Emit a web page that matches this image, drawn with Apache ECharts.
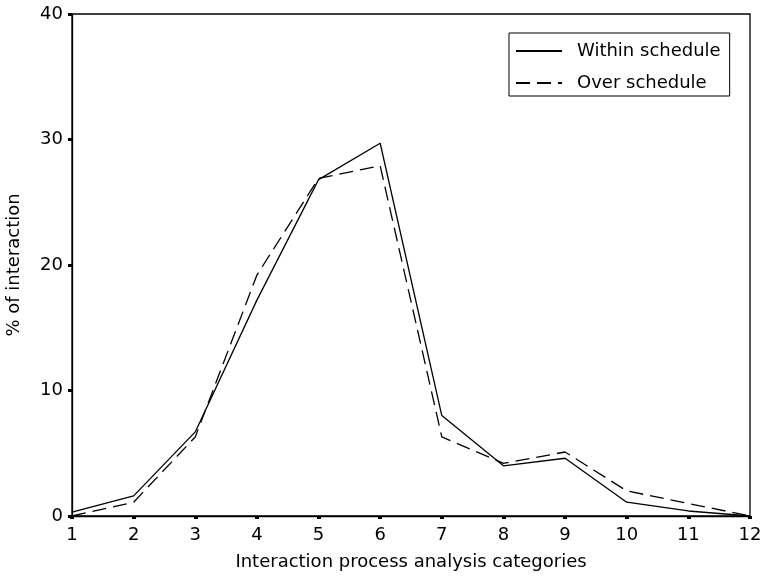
<!DOCTYPE html>
<html><head><meta charset="utf-8">
<script src="https://cdn.jsdelivr.net/npm/echarts@6/dist/echarts.min.js"></script>
<style>html,body{margin:0;padding:0;background:#fff}#c{width:766px;height:579px}</style>
</head><body><div id="c"></div>
<script>
var categories = [1,2,3,4,5,6,7,8,9,10,11,12];
var withinSchedule = [0.3,1.6,6.7,17.2,26.8,29.7,8.0,4.0,4.6,1.1,0.4,0.0];
var overSchedule = [0.0,1.1,6.3,19.2,26.9,27.9,6.3,4.2,5.1,2.0,1.0,0.0];
var yTicks = [0,10,20,30,40];
var seriesNames = ['Within schedule','Over schedule'];

var font = 'DejaVu Sans, Arial, sans-serif';
function pairs(v){ return categories.map(function(c,i){ return [c, v[i]]; }); }
var chart = echarts.init(document.getElementById('c'), null, {renderer:'canvas'});
chart.setOption({
  animation:false,
  backgroundColor:'#fff',
  grid:{left:72,right:16,top:14,bottom:63,outerBoundsMode:'none',containLabel:false,show:true,borderColor:'#000',borderWidth:1.3,backgroundColor:'transparent'},
  legend:{
    orient:'vertical', left:509, top:33, data:seriesNames,
    borderColor:'#000', borderWidth:1, padding:[8,9,3,6], itemGap:12,
    itemWidth:46, itemHeight:12,
    itemStyle:{opacity:0},
    textStyle:{fontFamily:font,fontSize:18,color:'#000',lineHeight:20,padding:[0,0,0,10]}
  },
  xAxis:{
    type:'value', min:1, max:12, interval:1,
    name:'Interaction process analysis categories', nameLocation:'middle', nameGap:37,
    nameTextStyle:{fontFamily:font,fontSize:18,color:'#000'},
    axisLine:{lineStyle:{color:'#000',width:1.3}},
    axisTick:{show:true,length:3,lineStyle:{color:'#000',width:4}},
    axisLabel:{fontFamily:font,fontSize:18,color:'#000',margin:10,formatter:function(v){return categories.indexOf(v)>=0?String(v):'';}},
    splitLine:{show:false}
  },
  yAxis:{
    type:'value', min:yTicks[0], max:yTicks[yTicks.length-1], interval:10,
    name:'% of interaction', nameLocation:'middle', nameGap:49,
    nameTextStyle:{fontFamily:font,fontSize:18,color:'#000'},
    axisLine:{lineStyle:{color:'#000',width:1.3}},
    axisTick:{show:true,length:4,lineStyle:{color:'#000',width:3}},
    axisLabel:{fontFamily:font,fontSize:18,color:'#000',margin:9},
    splitLine:{show:false}
  },
  series:[
    {name:seriesNames[0], type:'line', data:pairs(withinSchedule), symbol:'none', showSymbol:false,
     lineStyle:{color:'#000',width:1.3,type:'solid'}, itemStyle:{color:'#000'}},
    {name:seriesNames[1], type:'line', data:pairs(overSchedule), symbol:'none', showSymbol:false,
     lineStyle:{color:'#000',width:1.3,type:[14,7]}, itemStyle:{color:'#000'}}
  ]
});
</script></body></html>
